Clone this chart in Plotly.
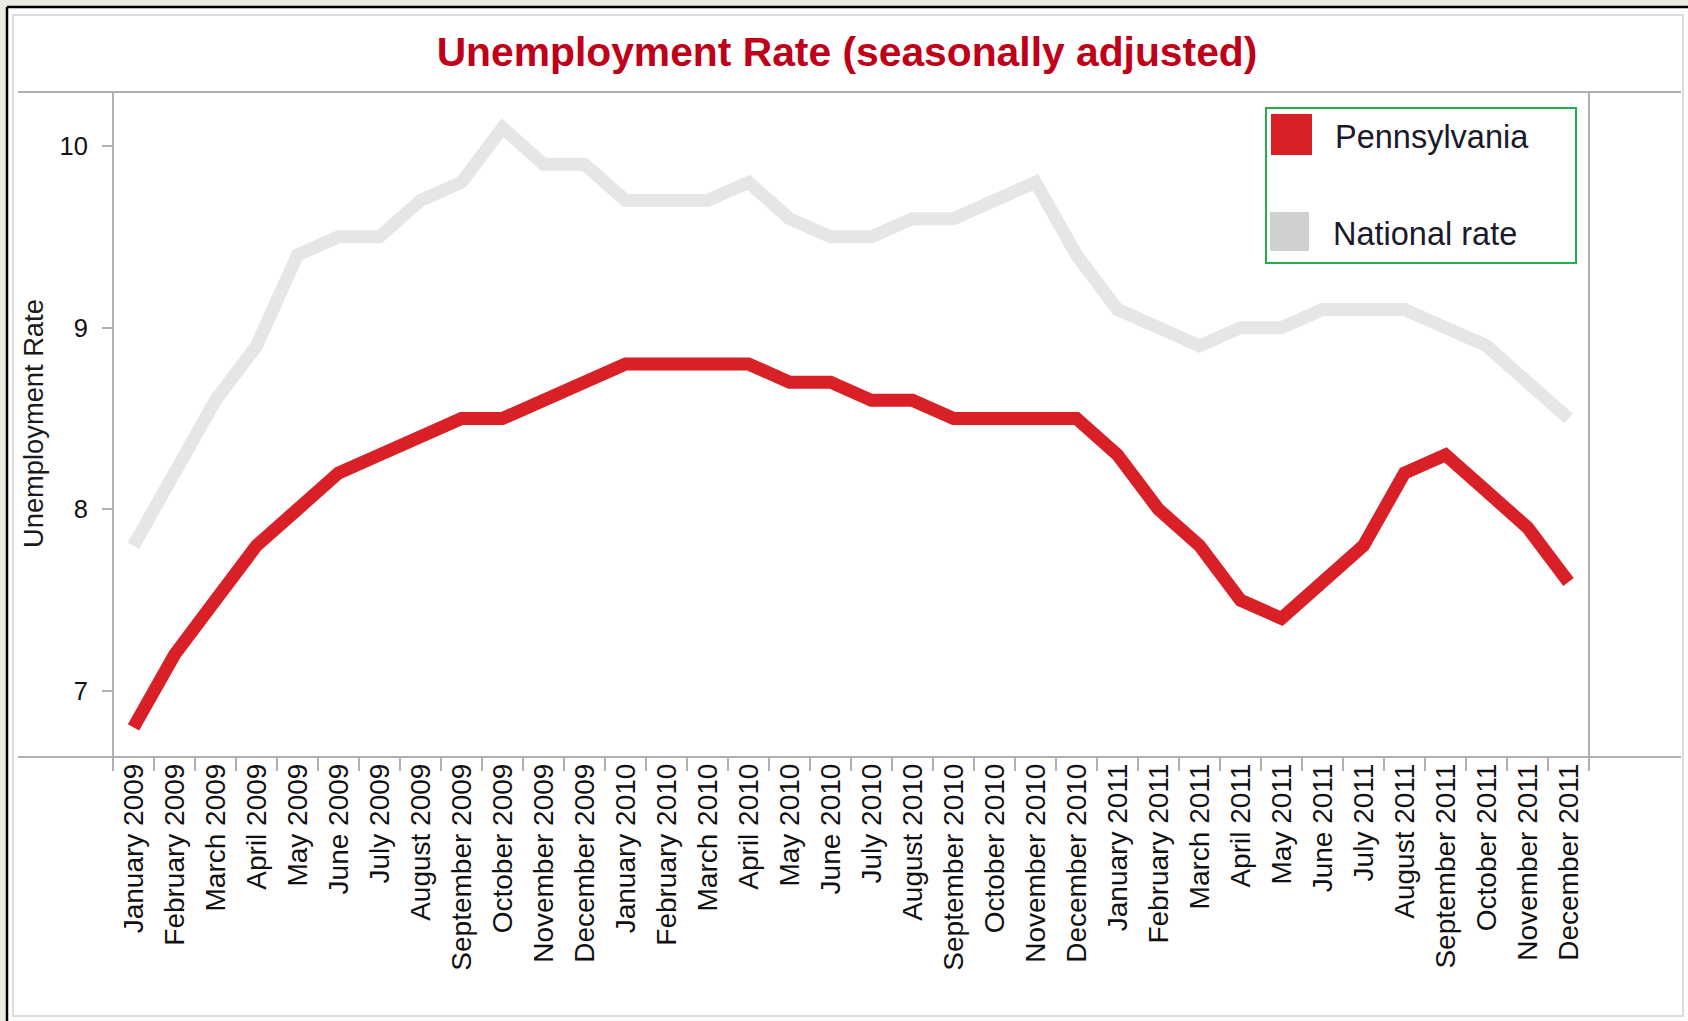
import plotly.graph_objects as go

# Monthly unemployment rates, seasonally adjusted
months = [
    "January 2009", "February 2009", "March 2009", "April 2009", "May 2009", "June 2009",
    "July 2009", "August 2009", "September 2009", "October 2009", "November 2009", "December 2009",
    "January 2010", "February 2010", "March 2010", "April 2010", "May 2010", "June 2010",
    "July 2010", "August 2010", "September 2010", "October 2010", "November 2010", "December 2010",
    "January 2011", "February 2011", "March 2011", "April 2011", "May 2011", "June 2011",
    "July 2011", "August 2011", "September 2011", "October 2011", "November 2011", "December 2011",
]
pennsylvania = [
    6.8, 7.2, 7.5, 7.8, 8.0, 8.2, 8.3, 8.4, 8.5, 8.5, 8.6, 8.7,
    8.8, 8.8, 8.8, 8.8, 8.7, 8.7, 8.6, 8.6, 8.5, 8.5, 8.5, 8.5,
    8.3, 8.0, 7.8, 7.5, 7.4, 7.6, 7.8, 8.2, 8.3, 8.1, 7.9, 7.6,
]
national = [
    7.8, 8.2, 8.6, 8.9, 9.4, 9.5, 9.5, 9.7, 9.8, 10.1, 9.9, 9.9,
    9.7, 9.7, 9.7, 9.8, 9.6, 9.5, 9.5, 9.6, 9.6, 9.7, 9.8, 9.4,
    9.1, 9.0, 8.9, 9.0, 9.0, 9.1, 9.1, 9.1, 9.0, 8.9, 8.7, 8.5,
]
series_names = ["Pennsylvania", "National rate"]
line_colors = ["#d92027", "#e6e6e6"]
swatch_colors = ["#d92027", "#cfcfcf"]
y_ticks = [7, 8, 9, 10]

FONT = "Liberation Sans, Arial, sans-serif"
W, H = 1688, 1021
# plot area edges in page pixels
L, R, T, B = 113, 1589, 92, 757
RULE = "#b0b0b0"


def px(x):
    return (x - L) / (R - L)


def py(y):
    return (B - y) / (B - T)


fig = go.Figure()

# national line first so the state line sits on top
fig.add_trace(go.Scatter(
    x=months, y=national, mode="lines", name=series_names[1],
    line=dict(color=line_colors[1], width=13), showlegend=False,
))
fig.add_trace(go.Scatter(
    x=months, y=pennsylvania, mode="lines", name=series_names[0],
    line=dict(color=line_colors[0], width=13), showlegend=False,
))

shapes = []
# textured page edge outside the frame
shapes.append(dict(type="rect", xref="paper", yref="paper",
                   x0=px(0), x1=px(7), y0=py(1021), y1=py(0),
                   fillcolor="#e8ece2", line=dict(width=0), layer="below"))
shapes.append(dict(type="rect", xref="paper", yref="paper",
                   x0=px(0), x1=px(1688), y0=py(7), y1=py(0),
                   fillcolor="#e8ece2", line=dict(width=0), layer="below"))
# black outer frame (top and left)
shapes.append(dict(type="line", xref="paper", yref="paper",
                   x0=px(7), x1=px(1688), y0=py(7), y1=py(7),
                   line=dict(color="#000000", width=2.5)))
shapes.append(dict(type="line", xref="paper", yref="paper",
                   x0=px(7), x1=px(7), y0=py(7), y1=py(1021),
                   line=dict(color="#000000", width=2.5)))
# light panel border
shapes.append(dict(type="rect", xref="paper", yref="paper",
                   x0=px(13), x1=px(1683), y0=py(1016), y1=py(15),
                   line=dict(color="#dcdcdc", width=2)))
# rule under the title / top of plot
shapes.append(dict(type="line", xref="paper", yref="paper",
                   x0=px(18), x1=px(1681), y0=py(T), y1=py(T),
                   line=dict(color=RULE, width=2)))
# x axis rule, extended across the panel
shapes.append(dict(type="line", xref="paper", yref="paper",
                   x0=px(18), x1=px(1681), y0=py(B), y1=py(B),
                   line=dict(color=RULE, width=2)))
# y axis rule and right divider
shapes.append(dict(type="line", xref="paper", yref="paper",
                   x0=px(L), x1=px(L), y0=py(T), y1=py(B),
                   line=dict(color=RULE, width=2)))
shapes.append(dict(type="line", xref="paper", yref="paper",
                   x0=px(R), x1=px(R), y0=py(T), y1=py(770),
                   line=dict(color=RULE, width=2)))

# legend box with colour swatches
shapes.append(dict(type="rect", xref="paper", yref="paper",
                   x0=px(1266), x1=px(1576), y0=py(263), y1=py(108),
                   fillcolor="#ffffff", line=dict(color="#22b04b", width=2)))
shapes.append(dict(type="rect", xref="paper", yref="paper",
                   x0=px(1271), x1=px(1312), y0=py(155), y1=py(114),
                   fillcolor=swatch_colors[0], line=dict(width=0)))
shapes.append(dict(type="rect", xref="paper", yref="paper",
                   x0=px(1270), x1=px(1309), y0=py(251), y1=py(212),
                   fillcolor=swatch_colors[1], line=dict(width=0)))

annotations = [
    dict(text=series_names[0], xref="paper", yref="paper",
         x=px(1333), y=py(137), xanchor="left", yanchor="middle", showarrow=False,
         font=dict(family=FONT, size=32.5, color="#1a1a2a")),
    dict(text=series_names[1], xref="paper", yref="paper",
         x=px(1331), y=py(234), xanchor="left", yanchor="middle", showarrow=False,
         font=dict(family=FONT, size=32.5, color="#1a1a2a")),
    dict(text="Unemployment Rate", xref="paper", yref="paper",
         x=px(34), y=py(424), xanchor="center", yanchor="middle", showarrow=False,
         textangle=-90, font=dict(family=FONT, size=27.3, color="#1a1a1a")),
]

fig.update_layout(
    width=W, height=H,
    margin=dict(l=L, r=W - R, t=T, b=H - B, pad=0),
    paper_bgcolor="#ffffff", plot_bgcolor="#ffffff",
    showlegend=False,
    title=dict(
        text="<b>Unemployment Rate (seasonally adjusted)</b>",
        x=847 / W, xanchor="center", y=1 - 52 / H, yanchor="middle",
        font=dict(family=FONT, size=40.8, color="#c00018"),
    ),
    xaxis=dict(
        type="category", categoryorder="array", categoryarray=months,
        range=[-0.5, len(months) - 0.5],
        tickson="boundaries", ticks="outside", ticklen=13, tickwidth=2, tickcolor=RULE,
        tickangle=-90, tickfont=dict(family=FONT, size=28, color="#111111"),
        showgrid=False, showline=False, zeroline=False, fixedrange=True,
    ),
    yaxis=dict(
        range=[6.637, 10.297], tickvals=y_ticks,
        ticks="outside", ticklen=10, tickwidth=2, tickcolor=RULE,
        ticklabelstandoff=9,
        tickfont=dict(family=FONT, size=25.5, color="#111111"),
        showgrid=False, showline=False, zeroline=False, fixedrange=True,
    ),
    shapes=shapes,
    annotations=annotations,
)

fig.write_html("out.html")
